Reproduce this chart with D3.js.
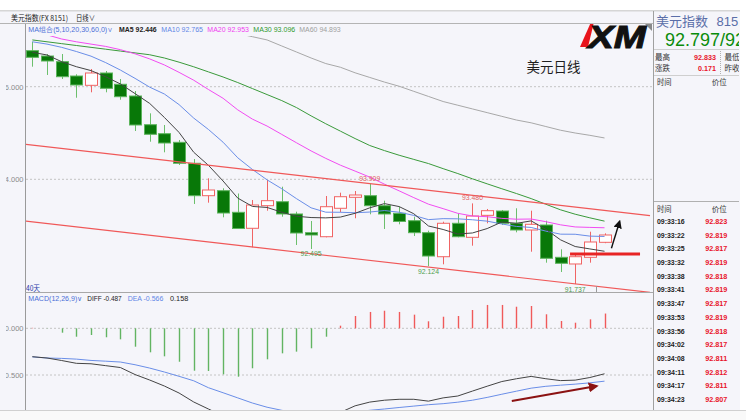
<!DOCTYPE html>
<html><head><meta charset="utf-8">
<script src="https://cdn.jsdelivr.net/npm/d3@7/dist/d3.min.js"></script>
<style>html,body{margin:0;padding:0;overflow:hidden;background:#f5f5fa}</style>
</head><body>
<svg id="chart" width="746" height="420" xmlns="http://www.w3.org/2000/svg"></svg>
<script>
// ---------- DATA ----------
const opens  = [96.778,96.663,96.540,96.231,96.030,96.296,96.052,95.799,95.179,94.985,94.799,94.346,93.646,93.754,93.287,92.942,93.430,93.516,93.251,92.847,92.760,93.374,93.611,93.646,93.430,93.266,93.106,92.847,92.328,93.050,92.747,93.222,93.315,93.050,92.905,93.013,92.315,92.171,92.315,92.639];
const highs  = [96.972,96.706,96.706,96.268,96.382,96.339,96.166,95.907,95.425,95.173,94.849,94.438,94.022,93.806,93.693,93.553,93.985,93.840,93.300,93.099,93.639,93.711,93.747,93.909,93.538,93.408,93.192,92.890,93.084,93.266,93.480,93.359,93.337,93.374,93.322,93.106,92.488,92.387,92.868,92.833];
const lows   = [96.432,96.253,96.166,95.762,95.879,95.879,95.719,95.043,94.812,94.583,94.309,93.467,93.495,93.179,92.927,92.531,93.322,93.192,92.581,92.495,92.747,93.287,93.158,93.244,92.927,93.028,92.775,92.124,92.164,92.747,92.566,93.050,93.013,92.855,92.436,92.199,91.998,91.737,92.199,92.620];
const closes = [96.635,96.555,96.216,96.037,96.296,95.965,95.784,95.173,94.972,94.784,94.346,93.646,93.769,93.272,92.937,93.445,93.538,93.251,92.840,92.797,93.408,93.624,93.661,93.430,93.251,93.089,92.847,92.343,93.050,92.760,93.207,93.322,93.050,92.905,93.028,92.294,92.186,92.328,92.646,92.797];

const ma5  = [96.743,96.685,96.540,96.432,96.348,96.214,96.060,95.851,95.638,95.336,95.012,94.584,94.303,93.963,93.594,93.414,93.392,93.289,93.202,93.174,93.167,93.184,93.266,93.384,93.475,93.411,93.256,92.992,92.916,92.818,92.841,92.936,93.078,93.049,93.102,92.920,92.693,92.548,92.496,92.446];
const ma10 = [96.97,96.92,96.85,96.76,96.66,96.52,96.36,96.18,95.99,95.842,95.613,95.322,95.077,94.801,94.465,94.213,93.988,93.796,93.583,93.384,93.290,93.288,93.277,93.293,93.325,93.289,93.220,93.129,93.150,93.146,93.126,93.096,93.035,92.982,92.960,92.881,92.815,92.813,92.773,92.765];
const ma20 = [97.20,97.12,97.03,96.97,96.92,96.87,96.80,96.71,96.60,96.47,96.31,96.14,95.94,95.75,95.50,95.30,95.15,94.97,94.79,94.613,94.452,94.305,94.177,94.047,93.895,93.751,93.604,93.463,93.366,93.265,93.208,93.192,93.156,93.138,93.142,93.085,93.017,92.971,92.961,92.953];
const ma30 = [97.01,96.97,96.93,96.89,96.85,96.81,96.77,96.73,96.69,96.62,96.53,96.43,96.32,96.21,96.09,95.96,95.83,95.70,95.55,95.37,95.20,95.04,94.88,94.73,94.62,94.52,94.43,94.34,94.23,94.124,94.010,93.902,93.796,93.692,93.583,93.461,93.341,93.246,93.168,93.096];
const ma60 = [null,null,null,null,null,null,null,null,null,null,null,null,null,97.22,97.15,97.08,97.01,96.88,96.75,96.62,96.50,96.42,96.30,96.20,96.10,96.01,95.90,95.79,95.68,95.60,95.52,95.44,95.36,95.28,95.22,95.14,95.06,95.00,94.95,94.893];

const diff = [-0.304,-0.318,-0.345,-0.375,-0.380,-0.400,-0.420,-0.495,-0.554,-0.618,-0.693,-0.789,-0.864,-0.937,-1.004,-1.014,-1.011,-1.012,-1.030,-1.037,-0.985,-0.900,-0.830,-0.790,-0.770,-0.760,-0.760,-0.780,-0.745,-0.725,-0.672,-0.620,-0.570,-0.540,-0.515,-0.540,-0.560,-0.555,-0.527,-0.487];
const dea  = [-0.306,-0.318,-0.322,-0.330,-0.344,-0.352,-0.361,-0.390,-0.426,-0.468,-0.514,-0.562,-0.636,-0.690,-0.745,-0.800,-0.845,-0.878,-0.905,-0.930,-0.940,-0.914,-0.896,-0.878,-0.864,-0.848,-0.833,-0.818,-0.807,-0.791,-0.770,-0.740,-0.706,-0.673,-0.641,-0.621,-0.609,-0.598,-0.584,-0.566];
const macdHist = [0.005,-0.002,-0.047,-0.090,-0.072,-0.096,-0.118,-0.197,-0.257,-0.300,-0.358,-0.454,-0.457,-0.493,-0.518,-0.428,-0.332,-0.268,-0.250,-0.214,-0.090,0.028,0.132,0.175,0.188,0.175,0.146,0.075,0.124,0.132,0.196,0.250,0.250,0.231,0.239,0.150,0.078,0.060,0.096,0.158];

const priceTicks = [96, 94];
const macdTicks = [0, -0.5];
const extremeLabels = [
  {i:23, v:93.909, kind:"high"}, {i:30, v:93.480, kind:"high"},
  {i:19, v:92.495, kind:"low"}, {i:27, v:92.124, kind:"low"}, {i:37, v:91.737, kind:"low"}
];
const channels = [ {i0:-0.5, p0:94.756, i1:42.1, p1:93.216}, {i0:-0.5, p0:93.099, i1:42.1, p1:91.557} ];
const supportLine = {i0:36.65, i1:41.42, p:92.387};
const priceArrow = {i0:39.47, p0:92.51, i1:40.03, p1:93.09};
const macdArrow = {i0:32.68, v0:-0.778, i1:38.47, v1:-0.618};

const legendMA = [
  {t:"MA5 92.446", x:119, len:37.7, c:"#222", w:"bold"},
  {t:"MA10 92.765", x:161.3, len:41.7, c:"#5f86e6"},
  {t:"MA20 92.953", x:207.3, len:41.7, c:"#f040f0"},
  {t:"MA30 93.096", x:253.3, len:42, c:"#2f9a2f"},
  {t:"MA60 94.893", x:299.3, len:41.4, c:"#a0a0a0"}
];
const tradeTimes = ["09:33:16","09:33:22","09:33:25","09:33:32","09:33:38","09:33:41","09:33:47","09:33:53","09:33:56","09:34:02","09:34:08","09:34:11","09:34:17","09:34:23","09:34:29"];
const tradePrices = ["92.823","92.819","92.817","92.819","92.818","92.819","92.817","92.819","92.818","92.817","92.811","92.812","92.811","92.807","92.810"];

// ---------- SCALES ----------
const x = d3.scaleLinear().domain([-0.5, 42.1]).range([25, 650]);
const y = d3.scaleLinear().domain([94, 96]).range([179.3, 86.7]);
const ym = d3.scaleLinear().domain([0, -0.5]).range([328.3, 375]);

const svg = d3.select('#chart');
const SANS = '"Liberation Sans",Arial,sans-serif';
const CJK = '"Noto Sans CJK SC","Noto Sans",sans-serif';
function T(g, xx, yy, s, o = {}) {
  const t = g.append('text').attr('x', xx).attr('y', yy).text(s)
    .attr('font-family', o.family || SANS).attr('font-size', o.size || 8).attr('fill', o.fill || '#333');
  if (o.weight) t.attr('font-weight', o.weight);
  if (o.anchor) t.attr('text-anchor', o.anchor);
  if (o.len) t.attr('textLength', o.len).attr('lengthAdjust', 'spacingAndGlyphs');
  return t;
}
const defs = svg.append('defs');
defs.append('clipPath').attr('id', 'cMain').append('rect').attr('x', 26).attr('y', 36).attr('width', 627).attr('height', 256);
defs.append('clipPath').attr('id', 'cMacd').append('rect').attr('x', 26).attr('y', 303).attr('width', 627).attr('height', 107);
defs.append('clipPath').attr('id', 'cLbl').append('rect').attr('x', 6).attr('y', 0).attr('width', 20).attr('height', 420);
defs.append('clipPath').attr('id', 'cRight').append('rect').attr('x', 654).attr('y', 11).attr('width', 85).attr('height', 399);
defs.append('clipPath').attr('id', 'cLogo').append('rect').attr('x', 560).attr('y', 24).attr('width', 92).attr('height', 30);
['arrBlack', 'arrRed'].forEach((id, k) => {
  defs.append('marker').attr('id', id).attr('viewBox', '0 0 10 10').attr('refX', 8).attr('refY', 5)
    .attr('markerWidth', k ? 5 : 6).attr('markerHeight', k ? 5 : 6).attr('orient', 'auto')
    .append('path').attr('d', 'M0,0 L10,5 L0,10 z').attr('fill', k ? '#8b1212' : '#111');
});

// ---------- BACKGROUND / FRAME ----------
svg.append('rect').attr('width', 746).attr('height', 420).attr('fill', '#f5f5fa');
svg.append('rect').attr('width', 746).attr('height', 10).attr('fill', '#ffffff');
svg.append('rect').attr('y', 10).attr('width', 746).attr('height', 1.5).attr('fill', '#d6d6d6');
svg.append('line').attr('x1', 0).attr('x2', 653).attr('y1', 23.5).attr('y2', 23.5).attr('stroke', '#b4b4b4');
svg.append('line').attr('x1', 25.5).attr('x2', 25.5).attr('y1', 24).attr('y2', 410).attr('stroke', '#9a9a9a');
svg.append('line').attr('x1', 25).attr('x2', 653).attr('y1', 292.5).attr('y2', 292.5).attr('stroke', '#a8a8a8');
svg.append('polygon').attr('points', '645,24 652,24 652,31').attr('fill', '#8a8a8a');

// header texts
T(svg, 11, 20.5, '美元指数(FX 8151)', {family: CJK, size: 7.5, fill: '#222', len: 57});
T(svg, 76, 20.5, '日线∨', {family: CJK, size: 7.5, fill: '#222', len: 19});
T(svg, 28.3, 31.5, 'MA组合(5,10,20,30,60,0)∨', {size: 7, fill: '#4a6fd8', len: 85});
legendMA.forEach(d => T(svg, d.x, 31.5, d.t, {size: 7, fill: d.c, weight: d.w, len: d.len}));
T(svg, 28.3, 300.8, 'MACD(12,26,9)∨', {size: 7, fill: '#4a6fd8', len: 54});
T(svg, 87.3, 300.8, 'DIFF -0.487', {size: 7, fill: '#222', len: 34.4});
T(svg, 127.7, 300.8, 'DEA -0.566', {size: 7, fill: '#5f86e6', len: 35.6});
T(svg, 170, 300.8, '0.158', {size: 7, fill: '#222', len: 18.3});
T(svg, 26, 290.5, '40天', {family: CJK, size: 7.5, fill: '#2a3aa8', len: 14});

// grid + y labels
const lbl = svg.append('g').attr('clip-path', 'url(#cLbl)');
priceTicks.forEach(p => {
  svg.append('line').attr('x1', 26).attr('x2', 652).attr('y1', y(p)).attr('y2', y(p))
    .attr('stroke', '#c4c4c4').attr('stroke-dasharray', '2,2');
  T(lbl, 23.5, y(p) + 3, p.toFixed(3), {size: 7.5, fill: '#8a8a8a', anchor: 'end'});
});
macdTicks.forEach(v => {
  svg.append('line').attr('x1', 26).attr('x2', 652).attr('y1', ym(v)).attr('y2', ym(v))
    .attr('stroke', '#c4c4c4').attr('stroke-dasharray', '2,2');
  T(lbl, 23.5, ym(v) + 3, v.toFixed(3), {size: 7.5, fill: '#8a8a8a', anchor: 'end'});
});

// ---------- MAIN PANE ----------
const main = svg.append('g').attr('clip-path', 'url(#cMain)');
const idx = d3.range(closes.length);
const up = i => closes[i] >= opens[i];
const cx = i => Math.round(x(i)) + 0.5;
main.selectAll('line.wick').data(idx).enter().append('line')
  .attr('x1', cx).attr('x2', cx).attr('y1', i => y(highs[i])).attr('y2', i => y(lows[i]))
  .attr('stroke', i => up(i) ? '#f06464' : '#6cbf6c').attr('stroke-width', 1);
main.selectAll('rect.body').data(idx).enter().append('rect')
  .attr('x', i => cx(i) - 6).attr('width', 12)
  .attr('y', i => y(Math.max(opens[i], closes[i])))
  .attr('height', i => Math.max(1, Math.abs(y(opens[i]) - y(closes[i]))))
  .attr('fill', i => up(i) ? '#ffffff' : '#087808')
  .attr('stroke', i => up(i) ? '#f06464' : '#5cb45c').attr('stroke-width', 1);

const maDefs = [[ma60, '#a8a8a8'], [ma30, '#3a9a3a'], [ma20, '#f24cf2'], [ma10, '#6a8ee8'], [ma5, '#444444']];
maDefs.forEach(([arr, col]) => {
  const ln = d3.line().defined(d => d != null).x((d, i) => x(i)).y(d => y(d));
  main.append('path').attr('d', ln(arr)).attr('fill', 'none').attr('stroke', col).attr('stroke-width', 1);
});
channels.forEach(c => main.append('line').attr('x1', x(c.i0)).attr('x2', x(c.i1))
  .attr('y1', y(c.p0)).attr('y2', y(c.p1)).attr('stroke', '#f05858').attr('stroke-width', 1.1));
main.append('line').attr('x1', x(supportLine.i0)).attr('x2', x(supportLine.i1))
  .attr('y1', y(supportLine.p)).attr('y2', y(supportLine.p)).attr('stroke', '#e82424').attr('stroke-width', 3);
main.append('line').attr('x1', x(priceArrow.i0)).attr('y1', y(priceArrow.p0))
  .attr('x2', x(priceArrow.i1)).attr('y2', y(priceArrow.p1)).attr('stroke', '#111').attr('stroke-width', 1.4)
  .attr('marker-end', 'url(#arrBlack)');
extremeLabels.forEach(d => {
  const yy = d.kind === 'high' ? y(d.v) - 3 : y(d.v) + 7.5;
  T(svg, x(d.i), yy, d.v.toFixed(3), {size: 7.5, fill: d.kind === 'high' ? '#e26262' : '#4f9f4f', anchor: 'middle', len: 21});
});
svg.append('line').attr('x1', 596.5).attr('x2', 596.5).attr('y1', 286).attr('y2', 292).attr('stroke', '#9a9a9a');

// logo + title
const logo = svg.append('g').attr('clip-path', 'url(#cLogo)');
logo.append('polygon').attr('points', '580,47 591,22 594,22 588,47').attr('fill', '#e8141c');
logo.append('text').attr('x', 588).attr('y', 48).text('XM').attr('font-family', SANS).attr('font-size', 32)
  .attr('font-weight', 'bold').attr('font-style', 'italic').attr('fill', '#111')
  .attr('stroke', '#111').attr('stroke-width', 1)
  .attr('textLength', 58).attr('lengthAdjust', 'spacingAndGlyphs');
T(svg, 526.5, 72, '美元日线', {family: CJK, size: 13.5, fill: '#1e1e1e', len: 54});

// ---------- MACD PANE ----------
const mg = svg.append('g').attr('clip-path', 'url(#cMacd)');
mg.selectAll('line.h').data(idx).enter().append('line')
  .attr('x1', cx).attr('x2', cx).attr('y1', ym(0)).attr('y2', i => ym(macdHist[i]))
  .attr('stroke', i => macdHist[i] >= 0 ? '#f05a5a' : '#62b462').attr('stroke-width', 1.4);
const ml = d3.line().x((d, i) => x(i)).y(d => ym(d));
mg.append('path').attr('d', ml(dea)).attr('fill', 'none').attr('stroke', '#6a8ee8').attr('stroke-width', 1);
mg.append('path').attr('d', ml(diff)).attr('fill', 'none').attr('stroke', '#444').attr('stroke-width', 1);
mg.append('line').attr('x1', x(macdArrow.i0)).attr('y1', ym(macdArrow.v0))
  .attr('x2', x(macdArrow.i1)).attr('y2', ym(macdArrow.v1)).attr('stroke', '#8b1212').attr('stroke-width', 2)
  .attr('marker-end', 'url(#arrRed)');

// ---------- RIGHT PANEL ----------
svg.append('line').attr('x1', 653.5).attr('x2', 653.5).attr('y1', 11).attr('y2', 420).attr('stroke', '#a0a0a0');
const rp = svg.append('g').attr('clip-path', 'url(#cRight)');
T(rp, 656, 26, '美元指数', {family: CJK, size: 13, fill: '#5a6ea8', len: 52});
T(rp, 716.5, 26, '8151', {size: 13, fill: '#5a6ea8'});
T(rp, 665, 45.5, '92.797/92.800', {size: 18, fill: '#0a8c0a'});
[49.5, 75.5].forEach(v => rp.append('line').attr('x1', 654).attr('x2', 740).attr('y1', v).attr('y2', v).attr('stroke', '#cfcfcf'));
rp.append('line').attr('x1', 720.5).attr('x2', 720.5).attr('y1', 51).attr('y2', 74).attr('stroke', '#b0b0b0').attr('stroke-dasharray', '1,1');
T(rp, 655, 60, '最高', {family: CJK, size: 7.5, fill: '#333', len: 15});
T(rp, 716, 60, '92.833', {size: 7.5, fill: '#e8142a', weight: 'bold', anchor: 'end', len: 22});
T(rp, 724.5, 60, '最低', {family: CJK, size: 7.5, fill: '#333', len: 15});
T(rp, 655, 70.5, '涨跌', {family: CJK, size: 7.5, fill: '#333', len: 15});
T(rp, 716, 70.5, '0.171', {size: 7.5, fill: '#e8142a', weight: 'bold', anchor: 'end', len: 18});
T(rp, 724.5, 70.5, '昨收', {family: CJK, size: 7.5, fill: '#333', len: 15});
T(rp, 657, 84.5, '时间', {family: CJK, size: 7.5, fill: '#333', len: 14.5});
T(rp, 711.7, 84.5, '价位', {family: CJK, size: 7.5, fill: '#333', len: 15});
rp.append('line').attr('x1', 654).attr('x2', 740).attr('y1', 201.5).attr('y2', 201.5).attr('stroke', '#b0b0b0');
T(rp, 657, 211.5, '时间', {family: CJK, size: 7.5, fill: '#333', len: 14.5});
T(rp, 711.7, 211.5, '价位', {family: CJK, size: 7.5, fill: '#333', len: 15});
tradeTimes.forEach((t, k) => {
  const yy = 223.8 + k * 13.72;
  T(rp, 657, yy, t, {size: 7.5, fill: '#222', weight: 'bold', len: 27.7});
  T(rp, 727.3, yy, tradePrices[k], {size: 7.5, fill: '#e8142a', weight: 'bold', anchor: 'end', len: 22});
});
svg.append('rect').attr('x', 740).attr('y', 0).attr('width', 6).attr('height', 420).attr('fill', '#ffffff');
svg.append('rect').attr('x', 0).attr('y', 410.5).attr('width', 746).attr('height', 10).attr('fill', '#f9f9f9');
svg.append('line').attr('x1', 0).attr('x2', 746).attr('y1', 410.5).attr('y2', 410.5).attr('stroke', '#d0d0d0');
</script>
</body></html>
